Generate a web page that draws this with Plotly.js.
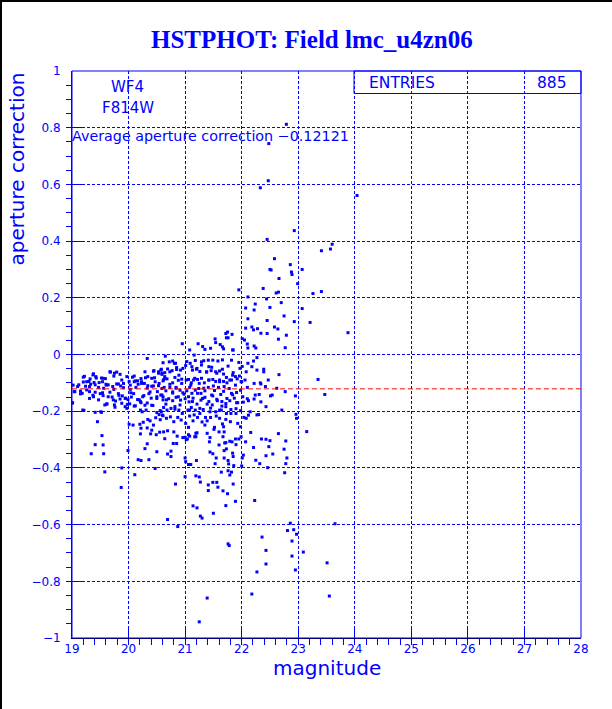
<!DOCTYPE html>
<html>
<head>
<meta charset="utf-8">
<script src="https://cdn.plot.ly/plotly-3.0.1.min.js"></script>
<style>
html,body{margin:0;padding:0;background:#fff;overflow:hidden;}
#frame{width:610px;height:707px;border-left:2px solid #000;border-top:2px solid #000;}
</style>
</head>
<body>
<div id="frame"><div id="chart"></div></div>
<script>
// ---- data: [magnitude, aperture correction] pairs ----
const chartTitle = "HSTPHOT: Field lmc_u4zn06";
const chipLabel = "WF4";
const filterLabel = "F814W";
const avgCorrection = -0.12121;
const entries = 885;
const xTitle = "magnitude";
const yTitle = "aperture correction";

const upperPoints = [[22.79,0.812],[22.48,0.744],[22.47,0.613],[22.33,0.588],[24.04,0.561],[22.93,0.437],[22.45,0.406],[23.60,0.389],[23.57,0.372],[23.41,0.366],[22.58,0.338]];

const midUpperPoints = [[22.86,0.317],[22.88,0.291],[22.89,0.282],[22.50,0.300],[22.52,0.298],[23.07,0.300],[22.66,0.268],[22.99,0.250],[21.95,0.228],[22.38,0.233],[22.61,0.217],[22.65,0.220],[23.26,0.215],[23.41,0.222],[22.11,0.203],[22.44,0.196],[22.70,0.183],[22.24,0.178],[22.50,0.166],[22.07,0.164],[22.22,0.157],[23.07,0.162],[22.75,0.136],[22.11,0.126],[22.45,0.120],[22.93,0.116],[23.21,0.113],[23.88,0.077],[22.07,0.093],[22.18,0.097],[22.21,0.087],[22.28,0.091],[22.64,0.090],[22.58,0.097],[22.34,0.075],[22.45,0.074],[22.65,0.054],[22.79,0.068],[21.72,0.074],[21.75,0.079],[21.83,0.071],[21.53,0.055],[21.73,0.059],[22.01,0.056],[22.05,0.051],[22.10,0.037],[22.11,0.023],[22.22,0.030],[22.25,0.023],[22.77,0.024],[21.62,0.035],[21.66,0.027],[21.84,0.016],[21.31,0.028],[21.45,0.022],[21.68,0.020],[20.95,0.038],[21.23,0.038],[21.08,0.016],[21.35,0.018],[21.76,0.059],[21.54,0.042],[21.85,0.016]];

const rightPoints = [[22.27,-0.011],[22.21,-0.023],[22.39,-0.052],[22.39,-0.061],[22.47,-0.090],[22.66,-0.071],[22.33,-0.100],[22.34,-0.104],[22.42,-0.113],[22.62,-0.119],[22.77,-0.131],[22.95,-0.146],[23.35,-0.088],[23.47,-0.141],[22.31,-0.141],[22.51,-0.146],[22.54,-0.143],[22.22,-0.157],[22.34,-0.167],[22.43,-0.184],[22.71,-0.196],[22.30,-0.212],[22.96,-0.211],[22.97,-0.225],[23.15,-0.272],[22.16,-0.275],[22.65,-0.279],[22.78,-0.305],[22.50,-0.304],[22.35,-0.298],[22.21,-0.328],[22.48,-0.325],[22.75,-0.334]];

const leftCluster = [[20.33,-0.014],[19.68,-0.062],[19.79,-0.062],[19.22,-0.077],[19.37,-0.072],[19.43,-0.083],[19.52,-0.083],[19.59,-0.085],[19.74,-0.076],[20.07,-0.080],[20.10,-0.076],[20.22,-0.085],[20.30,-0.082],[20.41,-0.084],[20.46,-0.082],[20.53,-0.066],[20.58,-0.052],[20.44,-0.059],[20.59,-0.070],[19.32,-0.086],[19.20,-0.097],[19.30,-0.095],[19.33,-0.105],[19.41,-0.107],[19.48,-0.099],[19.54,-0.096],[19.60,-0.105],[19.64,-0.107],[19.79,-0.104],[19.86,-0.111],[19.91,-0.102],[20.01,-0.095],[20.12,-0.093],[20.17,-0.105],[20.23,-0.096],[20.28,-0.102],[20.34,-0.110],[20.41,-0.112],[20.47,-0.096],[20.53,-0.110],[20.61,-0.093],[20.64,-0.084],[19.04,-0.131],[19.15,-0.129],[19.18,-0.137],[19.26,-0.125],[19.31,-0.131],[19.38,-0.149],[19.41,-0.133],[19.50,-0.138],[19.55,-0.145],[19.58,-0.178],[19.62,-0.174],[19.67,-0.133],[19.71,-0.150],[19.75,-0.178],[19.77,-0.164],[19.82,-0.138],[19.85,-0.157],[19.89,-0.146],[19.95,-0.154],[19.99,-0.159],[20.02,-0.174],[20.05,-0.150],[20.09,-0.138],[20.12,-0.181],[20.16,-0.159],[20.25,-0.149],[20.22,-0.170],[20.36,-0.138],[20.40,-0.154],[20.43,-0.180],[20.50,-0.149],[20.51,-0.131],[20.57,-0.143],[20.61,-0.160],[19.01,-0.171],[19.21,-0.197],[19.41,-0.204],[19.52,-0.204],[19.94,-0.184],[19.98,-0.176],[20.29,-0.179],[20.33,-0.171],[20.21,-0.196],[20.24,-0.202],[20.50,-0.205],[20.54,-0.212],[20.58,-0.202],[20.61,-0.216],[19.45,-0.237],[20.01,-0.246],[20.08,-0.249],[20.20,-0.246],[20.26,-0.239],[20.34,-0.229],[20.38,-0.234],[20.48,-0.223],[20.56,-0.230],[20.22,-0.260],[20.33,-0.259],[20.41,-0.267],[20.55,-0.274],[20.44,-0.249],[19.12,-0.107],[19.24,-0.112],[19.74,-0.123],[20.03,-0.123],[19.56,-0.119]];

const leftClusterExtra = [[19.20,-0.080],[19.38,-0.068],[19.42,-0.078],[19.55,-0.084],[19.67,-0.061],[19.75,-0.066],[19.85,-0.070],[19.88,-0.090],[19.97,-0.078],[20.10,-0.096],[20.16,-0.093],[20.29,-0.061],[20.34,-0.078],[20.45,-0.057],[20.53,-0.061],[20.59,-0.066],[20.64,-0.078],[20.73,-0.061],[20.81,-0.031],[20.85,-0.046],[20.92,-0.055],[19.02,-0.108],[19.10,-0.113],[19.26,-0.096],[19.31,-0.113],[19.39,-0.099],[19.47,-0.116],[19.61,-0.108],[19.72,-0.113],[19.82,-0.104],[19.91,-0.117],[20.03,-0.108],[20.13,-0.116],[20.23,-0.102],[20.33,-0.119],[20.44,-0.111],[20.54,-0.102],[20.63,-0.116],[20.73,-0.105],[20.84,-0.119],[20.94,-0.102],[19.05,-0.131],[19.15,-0.139],[19.31,-0.155],[19.37,-0.144],[19.47,-0.160],[19.54,-0.135],[19.64,-0.149],[19.73,-0.160],[19.83,-0.144],[19.94,-0.155],[20.04,-0.135],[20.19,-0.160],[20.27,-0.145],[20.38,-0.132],[20.50,-0.155],[20.59,-0.143],[20.67,-0.160],[20.78,-0.132],[20.88,-0.149],[20.96,-0.135],[19.01,-0.170],[19.19,-0.196],[19.51,-0.202],[19.61,-0.175],[19.76,-0.186],[19.88,-0.172],[19.97,-0.190],[20.10,-0.182],[20.21,-0.166],[20.31,-0.196],[20.41,-0.179],[20.56,-0.198],[20.66,-0.175],[20.82,-0.193],[20.91,-0.178]];

const centralCluster = [[20.65,-0.006],[20.61,-0.029],[20.72,-0.026],[20.78,-0.023],[20.83,-0.031],[21.16,-0.002],[21.18,-0.021],[21.29,-0.026],[21.33,-0.022],[21.41,-0.020],[21.49,-0.020],[21.58,-0.023],[21.66,-0.019],[21.82,-0.020],[21.95,-0.028],[22.01,-0.042],[22.11,-0.031],[20.96,-0.049],[21.01,-0.039],[21.09,-0.031],[21.13,-0.055],[21.21,-0.049],[21.26,-0.060],[21.38,-0.062],[21.42,-0.043],[21.46,-0.057],[21.54,-0.061],[21.61,-0.058],[21.68,-0.069],[21.73,-0.081],[21.84,-0.073],[21.89,-0.078],[21.96,-0.076],[20.57,-0.055],[20.64,-0.064],[20.69,-0.051],[20.77,-0.057],[20.85,-0.053],[20.89,-0.073],[20.62,-0.089],[20.68,-0.086],[20.78,-0.100],[20.82,-0.081],[20.88,-0.091],[20.94,-0.087],[21.06,-0.088],[21.11,-0.100],[21.15,-0.090],[21.22,-0.088],[21.29,-0.084],[21.34,-0.100],[21.42,-0.090],[21.49,-0.088],[21.54,-0.095],[21.61,-0.090],[21.68,-0.095],[21.74,-0.100],[21.82,-0.090],[21.92,-0.086],[21.99,-0.096],[22.06,-0.090],[20.59,-0.120],[20.66,-0.128],[20.73,-0.116],[20.78,-0.136],[20.84,-0.116],[20.91,-0.126],[20.98,-0.140],[21.03,-0.128],[21.08,-0.116],[21.12,-0.137],[21.18,-0.126],[21.24,-0.120],[21.28,-0.137],[21.35,-0.128],[21.41,-0.116],[21.47,-0.143],[21.52,-0.127],[21.59,-0.116],[21.63,-0.141],[21.68,-0.130],[21.78,-0.120],[21.84,-0.142],[21.91,-0.134],[21.98,-0.126],[20.61,-0.149],[20.71,-0.156],[20.78,-0.163],[20.84,-0.151],[20.92,-0.161],[21.00,-0.156],[21.07,-0.167],[21.14,-0.154],[21.21,-0.175],[21.28,-0.161],[21.35,-0.151],[21.42,-0.166],[21.48,-0.178],[21.56,-0.158],[21.65,-0.166],[21.72,-0.173],[21.79,-0.163],[21.87,-0.154],[21.93,-0.170],[22.03,-0.168],[22.10,-0.156],[20.62,-0.187],[20.68,-0.196],[20.75,-0.190],[20.82,-0.184],[20.89,-0.196],[20.95,-0.208],[21.05,-0.196],[21.11,-0.187],[21.18,-0.196],[21.26,-0.208],[21.32,-0.194],[21.45,-0.189],[21.54,-0.202],[21.61,-0.196],[21.72,-0.184],[21.81,-0.194],[21.90,-0.208],[21.98,-0.198],[20.60,-0.214],[20.67,-0.225],[20.74,-0.220],[20.80,-0.237],[20.87,-0.222],[20.93,-0.231],[21.01,-0.243],[21.08,-0.217],[21.14,-0.234],[21.22,-0.222],[21.30,-0.238],[21.35,-0.249],[21.39,-0.234],[21.45,-0.222],[21.52,-0.257],[21.61,-0.225],[21.66,-0.245],[21.73,-0.208],[21.80,-0.237],[21.93,-0.243],[21.98,-0.255],[22.08,-0.225],[22.12,-0.214],[20.62,-0.273],[20.69,-0.269],[20.80,-0.273],[20.86,-0.288],[20.96,-0.293],[21.02,-0.300],[21.06,-0.257],[21.17,-0.290],[21.21,-0.276],[21.51,-0.264],[21.68,-0.255]];

const centralClusterExtra = [[21.03,-0.025],[21.12,-0.043],[21.20,-0.052],[21.29,-0.037],[21.38,-0.061],[21.47,-0.045],[21.56,-0.066],[21.66,-0.052],[21.76,-0.041],[21.85,-0.064],[21.97,-0.049],[22.08,-0.061],[22.18,-0.043],[22.27,-0.055],[21.02,-0.090],[21.10,-0.108],[21.17,-0.084],[21.25,-0.102],[21.33,-0.119],[21.42,-0.090],[21.50,-0.111],[21.61,-0.096],[21.69,-0.113],[21.79,-0.090],[21.89,-0.108],[22.00,-0.096],[22.10,-0.116],[22.22,-0.102],[21.06,-0.149],[21.13,-0.166],[21.22,-0.137],[21.31,-0.155],[21.39,-0.175],[21.49,-0.146],[21.57,-0.163],[21.65,-0.182],[21.74,-0.155],[21.82,-0.137],[21.91,-0.170],[22.02,-0.149],[22.12,-0.163],[22.24,-0.143],[21.08,-0.196],[21.16,-0.213],[21.26,-0.190],[21.36,-0.222],[21.44,-0.202],[21.55,-0.217],[21.64,-0.196],[21.72,-0.229],[21.81,-0.208],[21.90,-0.191],[22.04,-0.222],[22.15,-0.202],[22.27,-0.213]];

const lowerLeftPoints = [[19.53,-0.286],[19.41,-0.318],[19.55,-0.319],[19.34,-0.350],[19.56,-0.350],[19.58,-0.414],[19.87,-0.469],[19.88,-0.400],[20.11,-0.424],[19.99,-0.339],[20.17,-0.371],[20.22,-0.374],[20.36,-0.371],[20.29,-0.332],[20.33,-0.315],[20.21,-0.280],[20.39,-0.280],[20.49,-0.283],[20.47,-0.402],[20.50,-0.343],[20.64,-0.297],[20.69,-0.351],[20.75,-0.341],[20.75,-0.360],[20.79,-0.314],[20.85,-0.314],[20.69,-0.582],[20.83,-0.457],[20.87,-0.607],[21.00,-0.365],[21.01,-0.378],[21.00,-0.431],[21.06,-0.388],[21.10,-0.388],[21.00,-0.292],[21.04,-0.298],[21.08,-0.288],[21.06,-0.283],[21.19,-0.278],[21.19,-0.290],[21.20,-0.374],[21.19,-0.428],[21.25,-0.432],[21.27,-0.450],[21.14,-0.534],[21.21,-0.541],[21.27,-0.570],[21.30,-0.577],[21.39,-0.859],[21.25,-0.943],[21.39,-0.278],[21.44,-0.293],[21.43,-0.308],[21.44,-0.344],[21.49,-0.350],[21.55,-0.365],[21.41,-0.460],[21.41,-0.480],[21.49,-0.451],[21.56,-0.451],[21.58,-0.468],[21.50,-0.560],[21.53,-0.385],[21.60,-0.273],[21.69,-0.273],[21.67,-0.290],[21.60,-0.319],[21.70,-0.312],[21.69,-0.339],[21.73,-0.333],[21.69,-0.365],[21.67,-0.481],[21.64,-0.415]];

const lowerRightPoints = [[21.72,-0.311],[21.79,-0.306],[21.83,-0.308],[21.89,-0.298],[21.95,-0.298],[21.90,-0.318],[21.99,-0.290],[22.07,-0.308],[22.43,-0.299],[21.84,-0.348],[21.85,-0.360],[22.03,-0.355],[22.01,-0.365],[22.43,-0.357],[22.55,-0.351],[22.80,-0.365],[21.76,-0.374],[21.77,-0.386],[21.86,-0.392],[22.25,-0.373],[22.32,-0.385],[22.78,-0.385],[22.00,-0.393],[22.46,-0.399],[21.76,-0.410],[21.82,-0.415],[21.79,-0.425],[22.76,-0.417],[21.85,-0.457],[21.75,-0.491],[21.89,-0.518],[22.23,-0.515],[21.72,-0.533],[22.86,-0.595],[22.81,-0.621],[22.92,-0.618],[22.97,-0.634],[23.65,-0.597],[22.36,-0.644],[22.89,-0.658],[21.76,-0.668],[21.78,-0.674],[22.43,-0.691],[23.09,-0.697],[22.89,-0.711],[23.51,-0.735],[22.43,-0.739],[22.95,-0.760],[22.27,-0.767],[22.18,-0.845],[23.55,-0.852]];

const xTicks = [19,20,21,22,23,24,25,26,27,28];

// ---- build ----
const allPoints = [].concat(upperPoints, midUpperPoints, rightPoints, leftCluster, leftClusterExtra, centralCluster, centralClusterExtra, lowerLeftPoints, lowerRightPoints);
const mags = allPoints.map(p => p[0]);
const corrs = allPoints.map(p => p[1]);

const BLUE = '#0000ff';
const FONT = 'DejaVu Sans, Liberation Sans, sans-serif';

const trace = {
  type: 'scatter', mode: 'markers', x: mags, y: corrs,
  marker: {symbol: 'square', size: 3, color: BLUE, line: {width: 0}},
  hoverinfo: 'skip', showlegend: false
};

const layout = {
  width: 610, height: 707,
  margin: {l: 70, r: 31, t: 69, b: 71, pad: 0},
  paper_bgcolor: '#ffffff', plot_bgcolor: '#ffffff',
  title: {
    text: chartTitle, x: 0.508, xanchor: 'center', xref: 'container',
    y: 0.948, yanchor: 'middle', yref: 'container',
    font: {family: 'Liberation Serif, Times New Roman, serif', size: 25, color: BLUE, weight: 'bold'}
  },
  xaxis: {
    range: [xTicks[0], xTicks[xTicks.length - 1]], tickvals: xTicks, ticktext: xTicks.map(String),
    ticks: 'inside', ticklen: 12, tickcolor: BLUE, tickwidth: 1,
    showgrid: true, gridcolor: BLUE, gridwidth: 1, griddash: '3px,2px',
    showline: true, linecolor: '#000000', linewidth: 1, zeroline: false,
    tickfont: {family: FONT, size: 12, color: BLUE}, ticklabelstandoff: 0,
    minor: {dtick: 0.2, tick0: 19, ticklen: 6, tickcolor: BLUE, showgrid: false},
    fixedrange: true
  },
  yaxis: {
    range: [-1, 1], dtick: 0.2, tick0: -1,
    ticks: 'inside', ticklen: 10, tickcolor: BLUE, tickwidth: 1,
    showgrid: true, gridcolor: BLUE, gridwidth: 1, griddash: '3px,2px',
    showline: true, linecolor: BLUE, linewidth: 1, zeroline: false,
    tickfont: {family: FONT, size: 12, color: BLUE}, ticklabelstandoff: 8,
    minor: {dtick: 0.05, tick0: -1, ticklen: 5, tickcolor: BLUE, showgrid: false},
    fixedrange: true
  },
  shapes: [
    {type: 'rect', xref: 'paper', yref: 'paper', x0: 0, x1: 1, y0: 0, y1: 1, line: {color: BLUE, width: 1}},
    {type: 'rect', xref: 'paper', yref: 'paper', x0: 0.554, x1: 1, y0: 0.9603, y1: 1, line: {color: BLUE, width: 1}},
    {type: 'line', xref: 'paper', yref: 'y', x0: 0, x1: 1, y0: avgCorrection, y1: avgCorrection, line: {color: '#ff0000', width: 1, dash: '5px,3px'}}
  ],
  annotations: [
    {text: chipLabel, xref: 'paper', yref: 'paper', x: 0.109, y: 0.971, xanchor: 'center', yanchor: 'middle', showarrow: false, font: {family: FONT, size: 15, color: BLUE}},
    {text: filterLabel, xref: 'paper', yref: 'paper', x: 0.110, y: 0.9356, xanchor: 'center', yanchor: 'middle', showarrow: false, font: {family: FONT, size: 15, color: BLUE}},
    {text: 'Average aperture correction \u2212' + Math.abs(avgCorrection).toFixed(5), xref: 'paper', yref: 'paper', x: -0.003, y: 0.8848, xanchor: 'left', yanchor: 'middle', showarrow: false, font: {family: FONT, size: 14.3, color: BLUE}},
    {text: 'ENTRIES', xref: 'paper', yref: 'paper', x: 0.5796, y: 0.9797, xanchor: 'left', yanchor: 'middle', showarrow: false, font: {family: FONT, size: 15.5, color: BLUE}},
    {text: String(entries), xref: 'paper', yref: 'paper', x: 0.9774, y: 0.9797, xanchor: 'right', yanchor: 'middle', showarrow: false, font: {family: FONT, size: 15.5, color: BLUE}},
    {text: yTitle, xref: 'paper', yref: 'paper', x: -0.11, y: 1.0, xanchor: 'center', yanchor: 'top', textangle: -90, showarrow: false, font: {family: FONT, size: 20, color: BLUE}},
    {text: xTitle, xref: 'paper', yref: 'paper', x: 0.5, y: -0.053, xanchor: 'center', yanchor: 'middle', showarrow: false, font: {family: FONT, size: 20, color: BLUE}}
  ]
};

Plotly.newPlot('chart', [trace], layout, {staticPlot: true, displayModeBar: false});
</script>
</body>
</html>
